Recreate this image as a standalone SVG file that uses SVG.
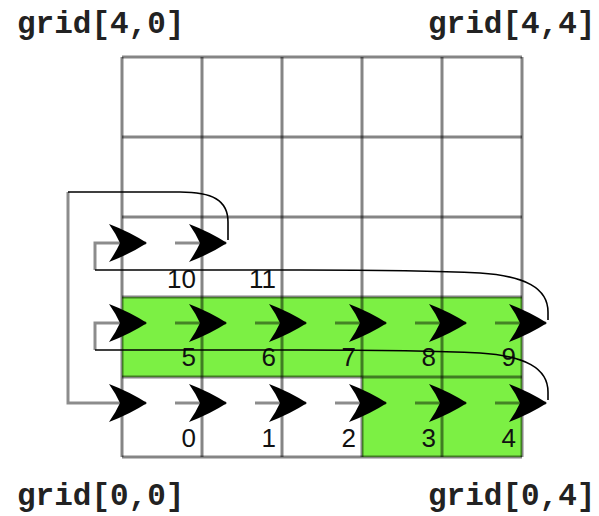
<svg xmlns="http://www.w3.org/2000/svg" width="599" height="516" viewBox="0 0 599 516">
  <style>
    .cell { stroke: none; }
    .hl { fill: #7cf044; }
    .grid { stroke: #000; stroke-opacity: 0.48; stroke-width: 3; fill: none; }
    .conn { stroke: #000; stroke-opacity: 0.45; stroke-width: 3; fill: none; }
    .curve { stroke: #000; stroke-width: 1.6; fill: none; }
    .idx { font-family: "Liberation Sans", Arial, sans-serif; font-size: 26px; fill: #111; text-anchor: end; }
    .lbl { font-family: "Liberation Mono", "Courier New", monospace; font-size: 31px; font-weight: bold; fill: #222; }
  </style>
  <defs>
    <marker id="head" markerUnits="userSpaceOnUse" markerWidth="42" markerHeight="42" viewBox="-39 -20 42 40" refX="0" refY="0" orient="auto">
      <path d="M1,0 Q-16,11 -37,19 Q-30,9 -26,0 Q-30,-9 -37,-19 Q-16,-11 1,0 Z" fill="#000"/>
    </marker>
  </defs>

  <!-- highlighted cells -->
  <g id="cells">
    <rect class="cell hl" x="122" y="297" width="400" height="80"/>
    <rect class="cell hl" x="362" y="377" width="160" height="80"/>
  </g>

  <!-- 5x5 grid -->
  <g id="grid" class="grid">
    <path d="M122,57 V457 M202,57 V457 M282,57 V457 M362,57 V457 M442,57 V457 M522,57 V457"/>
    <path d="M122,57 H522 M122,137 H522 M122,217 H522 M122,297 H522 M122,377 H522 M122,457 H522"/>
  </g>

  <!-- cell indices -->
  <g id="indices">
    <text class="idx" x="196" y="447">0</text>
    <text class="idx" x="276" y="447">1</text>
    <text class="idx" x="356" y="447">2</text>
    <text class="idx" x="436" y="447">3</text>
    <text class="idx" x="516" y="447">4</text>
    <text class="idx" x="196" y="366">5</text>
    <text class="idx" x="276" y="366">6</text>
    <text class="idx" x="356" y="366">7</text>
    <text class="idx" x="436" y="366">8</text>
    <text class="idx" x="516" y="366">9</text>
    <text class="idx" x="196" y="288">10</text>
    <text class="idx" x="276" y="288">11</text>
  </g>

  <!-- traversal connectors -->
  <g id="connectors">
    <!-- row 0 -->
    <path class="conn" d="M68,192 V403 H146" marker-end="url(#head)"/>
    <path class="conn" d="M175,403 H226" marker-end="url(#head)"/>
    <path class="conn" d="M255,403 H306" marker-end="url(#head)"/>
    <path class="conn" d="M335,403 H386" marker-end="url(#head)"/>
    <path class="conn" d="M415,403 H466" marker-end="url(#head)"/>
    <path class="conn" d="M495,403 H546" marker-end="url(#head)"/>
    <!-- row 1 -->
    <path class="conn" d="M95,350 V323 H146" marker-end="url(#head)"/>
    <path class="conn" d="M175,323 H226" marker-end="url(#head)"/>
    <path class="conn" d="M255,323 H306" marker-end="url(#head)"/>
    <path class="conn" d="M335,323 H386" marker-end="url(#head)"/>
    <path class="conn" d="M415,323 H466" marker-end="url(#head)"/>
    <path class="conn" d="M495,323 H546" marker-end="url(#head)"/>
    <!-- row 2 -->
    <path class="conn" d="M95,270 V243 H146" marker-end="url(#head)"/>
    <path class="conn" d="M175,243 H226" marker-end="url(#head)"/>
    <!-- wrap-around curves -->
    <path class="curve" d="M95,350 H300 C400,350 440,351 480,353 C525,356 548,368 548,392 V400"/>
    <path class="curve" d="M95,270 H300 C400,270 440,271 480,273 C525,276 548,288 548,312 V320"/>
    <path class="curve" d="M68,192 H180 C212,192 228,200 228,222 V240"/>
  </g>

  <!-- corner labels -->
  <g id="labels">
    <text class="lbl" x="17" y="33">grid[4,0]</text>
    <text class="lbl" x="428" y="33">grid[4,4]</text>
    <text class="lbl" x="17" y="505">grid[0,0]</text>
    <text class="lbl" x="428" y="505">grid[0,4]</text>
  </g>
</svg>
